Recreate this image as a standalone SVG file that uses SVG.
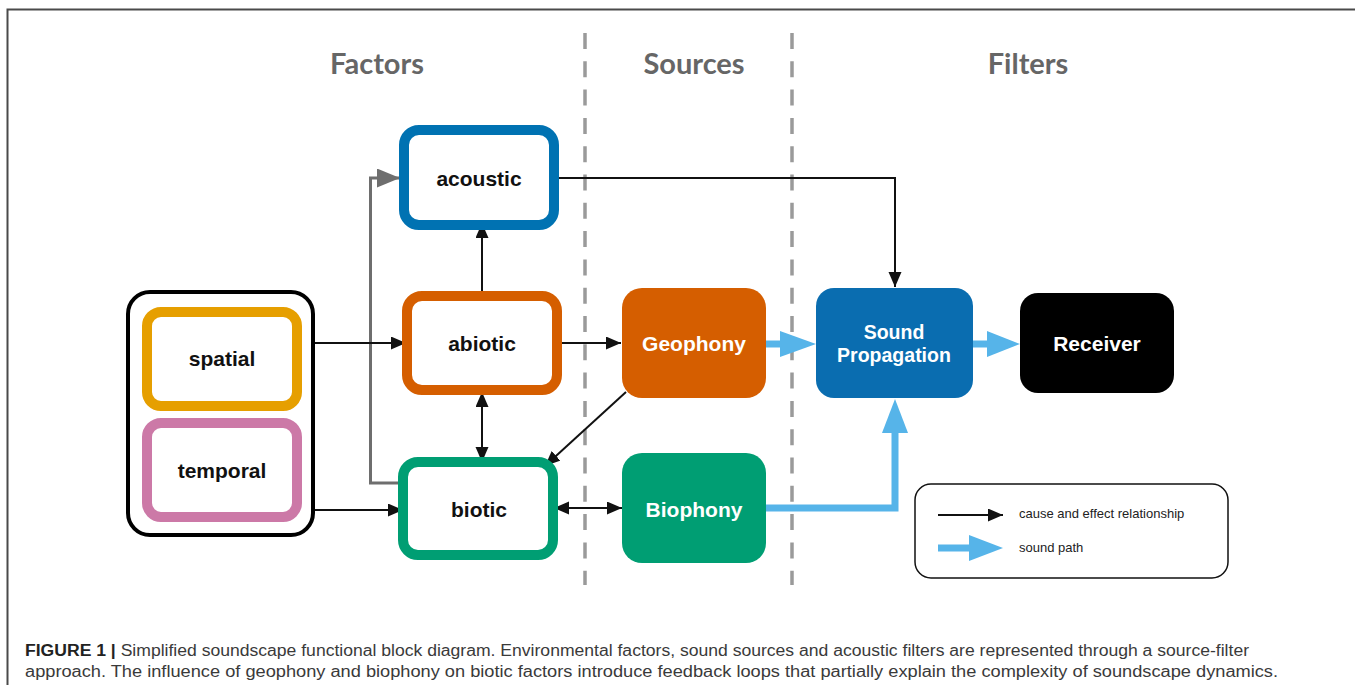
<svg xmlns="http://www.w3.org/2000/svg" width="1355" height="685" viewBox="0 0 1355 685">
<style>
.lbl{font-family:"Liberation Sans",Arial,sans-serif;font-weight:bold;font-size:21px;text-anchor:middle;fill:#111}
.wlbl{font-family:"Liberation Sans",Arial,sans-serif;font-weight:bold;font-size:21px;text-anchor:middle;fill:#fff}
.title{font-family:Lato,"Open Sans",sans-serif;font-weight:bold;font-size:29px;text-anchor:middle;fill:#666}
.leg{font-family:"Liberation Sans",Arial,sans-serif;font-size:13px;fill:#222}
.cap{font-family:"Liberation Sans",Arial,sans-serif;font-size:16px;fill:#3a3a3a}
.ring{fill:#fff;stroke-width:10}
.blk{fill:none;stroke:#111;stroke-width:2}
.snd{fill:none;stroke:#56b4e9;stroke-width:7}
.dash{stroke:#9a9a9a;stroke-width:3.5;stroke-dasharray:16 12.3}
</style>
<defs>
<marker id="ah" markerUnits="userSpaceOnUse" markerWidth="16" markerHeight="14" refX="15" refY="6.5" orient="auto-start-reverse">
<path d="M0,0 L15,6.5 L0,13 z" fill="#111"/>
</marker>
<marker id="ahg" markerUnits="userSpaceOnUse" markerWidth="24" markerHeight="20" refX="23" refY="9.5" orient="auto">
<path d="M0,0 L23,9.5 L0,19 z" fill="#6e6e6e"/>
</marker>
</defs>
<rect width="1355" height="685" fill="#fff"/>
<path d="M7.5,685 V9.5 H1355" fill="none" stroke="#4a4a4a" stroke-width="2"/>

<g id="headers">
<text class="title" x="377" y="74">Factors</text>
<text class="title" x="694" y="74">Sources</text>
<text class="title" x="1028" y="74">Filters</text>
<line class="dash" x1="585" y1="33" x2="585" y2="585"/>
<line class="dash" x1="792" y1="33" x2="792" y2="585"/>
</g>

<g id="connectors">
<path d="M400,483 H370.5 V178 H400" fill="none" stroke="#6e6e6e" stroke-width="3" marker-end="url(#ahg)"/>
<line class="blk" x1="315" y1="343" x2="406" y2="343" marker-end="url(#ah)"/>
<line class="blk" x1="315" y1="510" x2="403" y2="510" marker-end="url(#ah)"/>
<line class="blk" x1="482" y1="295" x2="482" y2="223" marker-end="url(#ah)"/>
<line class="blk" x1="482" y1="392" x2="482" y2="462" marker-start="url(#ah)" marker-end="url(#ah)"/>
<line class="blk" x1="557" y1="343" x2="621" y2="343" marker-end="url(#ah)"/>
<path class="blk" d="M553,178 H895 V287" marker-end="url(#ah)"/>
<line class="blk" x1="626" y1="392" x2="545" y2="466" marker-end="url(#ah)"/>
<line class="blk" x1="554" y1="508" x2="622" y2="508" marker-start="url(#ah)" marker-end="url(#ah)"/>
<line class="snd" x1="766" y1="344" x2="782" y2="344"/>
<polygon points="780,331 816,344 780,357" fill="#56b4e9"/>
<line class="snd" x1="973" y1="344" x2="989" y2="344"/>
<polygon points="987,331 1020,344 987,357" fill="#56b4e9"/>
<path class="snd" d="M766,508 H895 V431"/>
<polygon points="882,433 895,399 908,433" fill="#56b4e9"/>
</g>

<g id="group-spatiotemporal">
<rect x="128" y="292" width="185" height="243" rx="22" fill="#fff" stroke="#000" stroke-width="4"/>
</g>
<g id="spatial">
<rect class="ring" x="147" y="312" width="150" height="94" rx="14" stroke="#e69f00"/>
<text class="lbl" x="222" y="366">spatial</text>
</g>
<g id="temporal">
<rect class="ring" x="147" y="423" width="150" height="94" rx="14" stroke="#cc79a7"/>
<text class="lbl" x="222" y="478">temporal</text>
</g>
<g id="acoustic">
<rect class="ring" x="404" y="130" width="150" height="95" rx="15" stroke="#0072b2"/>
<text class="lbl" x="479" y="186">acoustic</text>
</g>
<g id="abiotic">
<rect class="ring" x="407" y="296" width="150" height="94" rx="15" stroke="#d55e00"/>
<text class="lbl" x="482" y="351">abiotic</text>
</g>
<g id="biotic">
<rect class="ring" x="403" y="462" width="150" height="93" rx="15" stroke="#009e73"/>
<text class="lbl" x="479" y="517">biotic</text>
</g>
<g id="geophony">
<rect x="622" y="288" width="144" height="110" rx="20" fill="#d55e00"/>
<text class="wlbl" x="694" y="351">Geophony</text>
</g>
<g id="biophony">
<rect x="622" y="453" width="144" height="110" rx="20" fill="#009e73"/>
<text class="wlbl" x="694" y="517">Biophony</text>
</g>
<g id="sound-propagation">
<rect x="816" y="288" width="157" height="110" rx="18" fill="#0a6db0"/>
<text class="wlbl" x="894" y="339" style="font-size:19.5px">Sound</text>
<text class="wlbl" x="894" y="362" style="font-size:19.5px">Propagation</text>
</g>
<g id="receiver">
<rect x="1020" y="293" width="154" height="100" rx="18" fill="#000"/>
<text class="wlbl" x="1097" y="351">Receiver</text>
</g>
<g id="legend">
<rect x="915" y="484" width="313" height="94" rx="16" fill="#fff" stroke="#111" stroke-width="1.5"/>
<line class="blk" x1="938" y1="515" x2="1003" y2="515" marker-end="url(#ah)"/>
<text class="leg" x="1019" y="518">cause and effect relationship</text>
<line class="snd" x1="938" y1="548" x2="971" y2="548"/>
<polygon points="969,535 1003,548 969,561" fill="#56b4e9"/>
<text class="leg" x="1019" y="552">sound path</text>
</g>

<g id="caption">
<text class="cap" x="25" y="656" textLength="1224" lengthAdjust="spacingAndGlyphs"><tspan font-weight="bold" fill="#222">FIGURE 1 |</tspan> Simplified soundscape functional block diagram. Environmental factors, sound sources and acoustic filters are represented through a source-filter</text>
<text class="cap" x="25" y="677" textLength="1253" lengthAdjust="spacingAndGlyphs">approach. The influence of geophony and biophony on biotic factors introduce feedback loops that partially explain the complexity of soundscape dynamics.</text>
</g>
</svg>
